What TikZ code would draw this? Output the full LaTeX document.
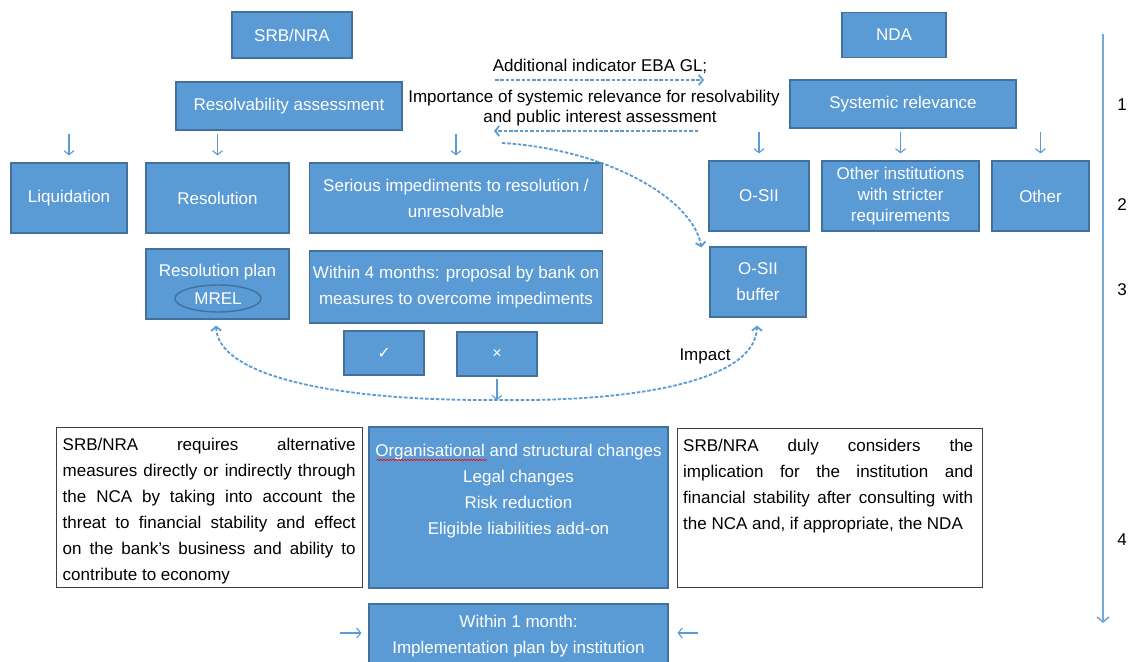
\documentclass[tikz,border=0pt]{standalone}
\usepackage{fontspec}
\setmainfont{Liberation Sans}
\newfontfamily\djv{DejaVu Sans}
\usetikzlibrary{arrows.meta,decorations.pathmorphing,shapes.geometric}
\definecolor{boxblue}{HTML}{5B9BD5}
\definecolor{boxedge}{HTML}{41719C}
\definecolor{arrblue}{HTML}{5B9BD5}
\begin{document}
\begin{tikzpicture}[x=1pt,y=-1pt,
  font=\fontsize{17}{26}\selectfont,
  bbox/.style={draw=boxedge, fill=boxblue, line width=1.2pt, text=white, align=center, inner sep=2pt},
  tbox/.style={draw=black!75, line width=1pt},
  txt/.style={inner sep=0pt, text=black},
  sarr/.style={arrblue, line width=1.1pt, -{Straight Barb[length=4pt,width=10pt]}},
  darr/.style={arrblue, line width=1.8pt, dash pattern=on 3.5pt off 1.8pt, -{Straight Barb[length=4pt,width=10pt]}},
  ddarr/.style={arrblue, line width=1.8pt, dash pattern=on 3.5pt off 1.8pt, {Straight Barb[length=4pt,width=10pt]}-{Straight Barb[length=4pt,width=10pt]}}
]
\useasboundingbox (0,0) rectangle (1129,661);
\fill[white] (0,0) rectangle (1129,661);

% top row
\node[bbox, minimum width=120pt, minimum height=46pt] (srb) at (292,35) {SRB/NRA};
\node[bbox, minimum width=104pt, minimum height=45pt] (nda) at (894,35) {NDA};
\node[bbox, minimum width=226pt, minimum height=48pt] (ra) at (289,106) {Resolvability assessment};
\node[bbox, minimum width=226pt, minimum height=48pt] (sr) at (903,104) {Systemic relevance};

% second row
\node[bbox, minimum width=116pt, minimum height=70pt] (liq) at (69,198) {Liquidation};
\node[bbox, minimum width=143pt, minimum height=70pt] (res) at (217.5,198) {Resolution};
\node[bbox, minimum width=293pt, minimum height=70pt] (imp) at (456,198) {Serious impediments to resolution /\\unresolvable};
\node[bbox, minimum width=100pt, minimum height=70pt] (osii) at (759,196) {O-SII};
\node[bbox, minimum width=157pt, minimum height=70pt, font=\fontsize{17}{21}\selectfont] (oth) at (900.5,196) {Other institutions\\with stricter\\requirements};
\node[bbox, minimum width=97pt, minimum height=70pt] (other) at (1040.5,196) {Other};

% third row
\node[bbox, minimum width=143pt, minimum height=70pt] (rplan) at (217.5,284) {};
\node[txt, text=white] (rplantxt) at (217.5,272) {Resolution plan};
\node[draw=boxedge, line width=1.4pt, ellipse, minimum width=86pt, minimum height=27pt, inner sep=0pt, text=white] (mrel) at (218,298.5) {MREL};
\node[bbox, minimum width=293pt, minimum height=72pt] (four) at (456,287) {Within 4 months: proposal by bank on\\measures to overcome impediments};
\node[bbox, minimum width=96pt, minimum height=70pt] (osb) at (758,282) {O-SII\\buffer};
\node[bbox, minimum width=80pt, minimum height=44pt, font=\djv\fontsize{16}{18}\selectfont] (yes) at (384,353) {✓};
\node[bbox, minimum width=80pt, minimum height=44pt, font=\fontsize{16}{18}\selectfont] (no) at (497,354) {×};

% fourth row
\node[tbox, minimum width=306pt, minimum height=160pt] (lbox) at (209,507.5) {};
\node[txt, text width=293pt, align=justify, anchor=north west] (ltxt) at (62.5,438) {\hyphenpenalty=10000 SRB/NRA requires alternative\linebreak measures directly or indirectly through\linebreak the NCA by taking into account the\linebreak threat to financial stability and effect\linebreak on the bank’s business and ability to\linebreak contribute to economy};
\node[bbox, minimum width=299pt, minimum height=161pt] (mid) at (518.5,507.5) {};
\node[txt, text=white, align=center, anchor=north] (midtxt) at (518.5,443.5) {Organisational and structural changes\\Legal changes\\Risk reduction\\Eligible liabilities add-on};
\node[tbox, minimum width=305pt, minimum height=159pt] (rbox) at (829.5,507.5) {};
\node[txt, text width=290pt, align=justify, anchor=north west] (rtxt) at (683,439) {\hyphenpenalty=10000 SRB/NRA duly considers the\linebreak implication for the institution and\linebreak financial stability after consulting with\linebreak the NCA and, if appropriate, the NDA};

\draw[red, line width=0.6pt, decorate, decoration={snake, amplitude=0.8pt, segment length=3pt}] (377,460) -- (487,460);

% bottom box
\node[bbox, minimum width=299pt, minimum height=64pt] (impl) at (518.5,636) {Within 1 month:\\Implementation plan by institution};
\coordinate (la) at (340,633);
\coordinate (rarr) at (698,633);
\draw[sarr] (la) -- ([xshift=-7pt]impl.west |- la);
\draw[sarr] (rarr) -- ([xshift=9pt]impl.east |- rarr);

% small down arrows
\foreach \n in {liq,res,imp,osii,oth,other}{
  \coordinate (top-\n) at ([yshift=28pt]\n.north);
  \draw[sarr] (top-\n) -- ([yshift=7pt]\n.north);
}
\coordinate (curvehit) at (497,400);
\coordinate (nos) at ([yshift=-2pt]no.south);
\draw[sarr] (nos) -- (curvehit);

% texts between
\node[txt] (addl) at (600,66) {Additional indicator EBA GL;};
\node[txt, align=center, font=\fontsize{17}{20}\selectfont] (impt) at (594,108) {Importance of systemic relevance for resolvability\\\hspace*{12pt}and public interest assessment};
\coordinate (d1s) at (495,80);
\coordinate (d1e) at (704,80);
\draw[darr] (d1s) -- (d1e);
\coordinate (d2s) at (698,131);
\coordinate (d2e) at (494,131);
\draw[darr] (d2s) -- (d2e);

% curved dashed arrows
\coordinate (cs) at (502,143);
\draw[darr] (cs) .. controls (605,149) and (693,198) .. ([xshift=-8pt,yshift=-1pt]osb.north west);
\draw[ddarr] ([xshift=-1.5pt,yshift=-6pt]rplan.south) .. controls (218,375) and (330,401) .. (curvehit) .. controls (640,402) and (756,380) .. ([xshift=-1pt,yshift=-8pt]osb.south);
\node[txt] (impact) at (705,356) {Impact};

% time axis
\coordinate (ax1) at (1103,34);
\coordinate (ax2) at (1103,623);
\draw[arrblue!85, line width=1.6pt, -{Straight Barb[length=5pt,width=12pt]}] (ax1) -- (ax2);
\node[txt] (n1) at (1122,105) {1};
\node[txt] (n2) at (1122,205) {2};
\node[txt] (n3) at (1122,290) {3};
\node[txt] (n4) at (1122,540) {4};
\end{tikzpicture}
\end{document}
